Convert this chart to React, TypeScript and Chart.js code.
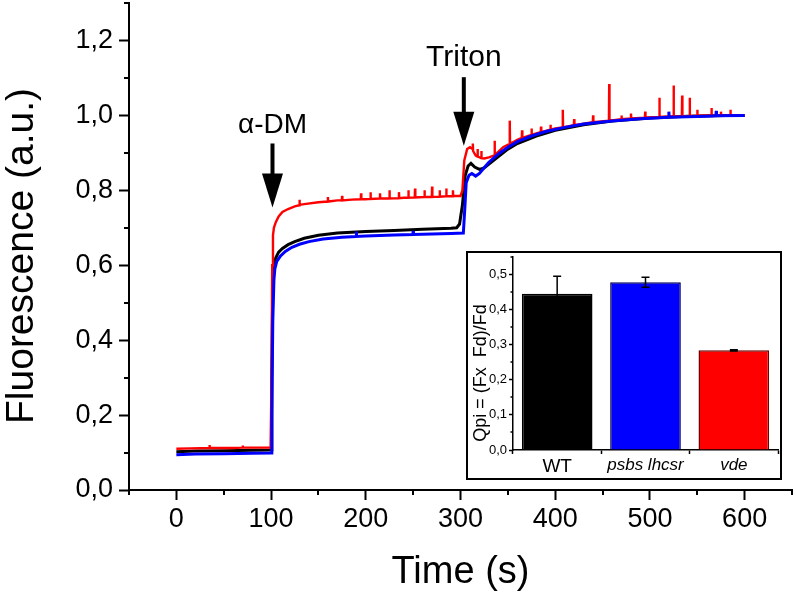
import React, { useEffect, useRef } from 'react';
import { Chart, registerables } from 'chart.js';

Chart.register(...registerables);

const FONT = '"Liberation Sans", Arial, Helvetica, sans-serif';

// ---------- Main chart data ----------
const xMajorTicks = [0, 100, 200, 300, 400, 500, 600];
const xTickLabels = ['0', '100', '200', '300', '400', '500', '600'];
const yMajorTicks = [0, 0.2, 0.4, 0.6, 0.8, 1.0, 1.2];
const yTickLabels = ['0,0', '0,2', '0,4', '0,6', '0,8', '1,0', '1,2'];

// [time (s), fluorescence (a.u.)]
const wtTrace: [number, number][] = [
  [0, 0.102], [20, 0.104], [50, 0.105], [80, 0.106], [100, 0.107], [100.8, 0.3], [101.8, 0.56],
  [103, 0.6], [105, 0.62], [108, 0.635], [112, 0.645], [118, 0.655], [125, 0.663], [135, 0.672],
  [150, 0.68], [170, 0.686], [200, 0.69], [230, 0.693], [260, 0.696], [290, 0.699], [296, 0.7],
  [299, 0.71], [302, 0.76], [305, 0.84], [308, 0.865], [311, 0.872], [315, 0.862], [320, 0.856],
  [325, 0.86], [330, 0.87], [340, 0.89], [350, 0.91], [360, 0.925], [380, 0.945], [400, 0.96],
  [430, 0.975], [460, 0.985], [500, 0.993], [540, 0.998], [580, 1.0], [600, 1.0],
];

const psbsTrace: [number, number][] = [
  [0, 0.094], [20, 0.096], [50, 0.097], [80, 0.098], [100, 0.099], [100.8, 0.2], [101.8, 0.45],
  [103, 0.56], [104, 0.59], [106, 0.61], [110, 0.625], [115, 0.637], [122, 0.648], [130, 0.656],
  [140, 0.663], [155, 0.67], [175, 0.675], [189.7, 0.677], [190, 0.69], [190.3, 0.677], [200, 0.678],
  [230, 0.681], [249.7, 0.682], [250, 0.692], [250.3, 0.682], [260, 0.683], [290, 0.685], [303, 0.686],
  [304.5, 0.75], [306, 0.82], [309, 0.84], [312, 0.845], [316, 0.838], [320, 0.845], [325, 0.86],
  [330, 0.875], [340, 0.897], [350, 0.915], [360, 0.93], [375, 0.945], [390, 0.957], [410, 0.968],
  [430, 0.977], [460, 0.985], [490, 0.991], [519.7, 0.995], [520, 1.01], [520.3, 0.995], [560, 0.998],
  [569.7, 0.999], [570, 1.012], [570.3, 0.999], [600, 1.0],
];

const vdeTrace: [number, number][] = [
  [0, 0.11], [15, 0.111], [34.7, 0.112], [35, 0.12], [35.3, 0.112], [60, 0.112], [69.7, 0.113],
  [70, 0.119], [70.3, 0.113], [90, 0.113], [99.5, 0.113], [100.5, 0.3], [101.2, 0.6], [102, 0.68],
  [103, 0.7], [105, 0.715], [108, 0.73], [112, 0.742], [118, 0.75], [125, 0.757], [129.7, 0.76],
  [130, 0.775], [130.3, 0.761], [135, 0.763], [150, 0.768], [159.7, 0.77], [160, 0.782], [160.3, 0.77],
  [170, 0.773], [174.7, 0.773], [175, 0.785], [175.3, 0.773], [185, 0.775], [194.7, 0.776], [195, 0.792],
  [195.3, 0.776], [200, 0.776], [204.7, 0.777], [205, 0.795], [205.3, 0.777], [214.7, 0.778], [215, 0.792],
  [215.3, 0.778], [224.7, 0.778], [225, 0.8], [225.3, 0.778], [234.7, 0.779], [235, 0.795], [235.3, 0.779],
  [240, 0.78], [244.7, 0.78], [245, 0.8], [245.3, 0.78], [251.7, 0.781], [252, 0.805], [252.3, 0.781],
  [261.7, 0.782], [262, 0.8], [262.3, 0.782], [269.7, 0.782], [270, 0.81], [270.3, 0.782], [277.7, 0.783],
  [278, 0.8], [278.3, 0.783], [284.7, 0.784], [285, 0.805], [285.3, 0.784], [291.7, 0.784], [292, 0.8],
  [292.3, 0.785], [300, 0.785], [302, 0.8], [304, 0.88], [307, 0.91], [310, 0.915], [312.7, 0.91],
  [313, 0.925], [313.3, 0.905], [316, 0.893], [317.7, 0.89], [318, 0.91], [318.3, 0.89], [321.7, 0.886],
  [322, 0.905], [322.3, 0.886], [325, 0.885], [330, 0.888], [335.7, 0.893], [336, 0.932], [336.3, 0.894],
  [345, 0.915], [351.7, 0.924], [352, 0.986], [352.3, 0.924], [360, 0.935], [364.7, 0.94], [365, 0.96],
  [365.3, 0.94], [374.7, 0.948], [375, 0.965], [375.3, 0.948], [380, 0.952], [384.7, 0.955], [385, 0.97],
  [385.3, 0.955], [394.7, 0.962], [395, 0.975], [395.3, 0.962], [400, 0.965], [407.7, 0.968], [408, 1.015],
  [408.3, 0.968], [419.7, 0.974], [420, 0.99], [420.3, 0.974], [430, 0.978], [439.7, 0.982], [440, 1.0],
  [440.3, 0.982], [456.7, 0.986], [457, 1.084], [457.3, 0.986], [469.7, 0.99], [470, 1.0], [470.3, 0.99],
  [479.7, 0.992], [480, 1.005], [480.3, 0.992], [494.7, 0.994], [495, 1.01], [495.3, 0.994], [509.7, 0.996],
  [510, 1.047], [510.3, 0.996], [520, 0.997], [524.7, 0.997], [525, 1.08], [525.3, 0.997], [533.7, 0.998],
  [534, 1.053], [534.3, 0.998], [541.7, 0.998], [542, 1.047], [542.3, 0.998], [549.7, 0.999], [550, 1.015],
  [550.3, 0.999], [560, 1.0], [564.7, 1.0], [565, 1.02], [565.3, 1.0], [574.7, 1.0], [575, 1.01],
  [575.3, 1.0], [584.7, 1.0], [585, 1.015], [585.3, 1.0], [600, 1.0],
];

// Annotation arrows (data units)
const arrowLabels = ['\u03B1-DM', 'Triton'];
const arrowTimes = [101.5, 303.5];
const arrowTops = [0.925, 1.102];
const arrowTips = [0.754, 0.919];
const arrowLabelBaselines = [0.952, 1.133];

// ---------- Inset data ----------
const insetCategories = ['WT', 'psbs lhcsr', 'vde'];
const insetValues = [0.445, 0.478, 0.284];
const insetErrors = [0.05, 0.014, 0.002];
const insetYMajorTicks = [0, 0.1, 0.2, 0.3, 0.4, 0.5];
const insetYTickLabels = ['0,0', '0,1', '0,2', '0,3', '0,4', '0,5'];

const insetTitle = 'Qpi = (Fx  Fd)/Fd';

// ---------- helpers ----------
const near = (a: number, b: number) => Math.abs(a - b) < 1e-6;
const isMajor = (v: number, majors: number[]) => majors.some((m) => near(m, v));
const labelFor = (v: number, majors: number[], labels: string[]) => {
  const i = majors.findIndex((m) => near(m, v));
  return i >= 0 ? labels[i] : '';
};
const toPoints = (trace: [number, number][]) => trace.map(([x, y]) => ({ x, y }));

const mainDecor = {
  id: 'mainDecor',
  afterDraw(chart: any) {
    const { ctx, chartArea } = chart;
    const xs = chart.scales.x;
    const ys = chart.scales.y;
    ctx.save();
    ctx.strokeStyle = '#000';
    ctx.lineWidth = 2;
    // minor ticks
    xs.ticks.forEach((t: any) => {
      if (isMajor(t.value, xMajorTicks)) return;
      const px = Math.round(xs.getPixelForValue(t.value));
      ctx.beginPath();
      ctx.moveTo(px, chartArea.bottom);
      ctx.lineTo(px, chartArea.bottom + 5);
      ctx.stroke();
    });
    ys.ticks.forEach((t: any) => {
      if (isMajor(t.value, yMajorTicks)) return;
      const py = Math.round(ys.getPixelForValue(t.value));
      ctx.beginPath();
      ctx.moveTo(chartArea.left, py);
      ctx.lineTo(chartArea.left - 5, py);
      ctx.stroke();
    });
    // y title
    ctx.fillStyle = '#000';
    ctx.font = `39px ${FONT}`;
    ctx.textAlign = 'center';
    ctx.textBaseline = 'middle';
    ctx.save();
    ctx.translate(22, 256);
    ctx.rotate(-Math.PI / 2);
    ctx.fillText('Fluorescence (a.u.)', 0, 0);
    ctx.restore();
    // arrows
    const headLen = 34;
    const headHalf = 10.5;
    const labelSizes = [28, 30];
    arrowLabels.forEach((lab, i) => {
      const x = xs.getPixelForValue(arrowTimes[i]);
      const yTop = ys.getPixelForValue(arrowTops[i]);
      const yTip = ys.getPixelForValue(arrowTips[i]);
      ctx.lineWidth = 4;
      ctx.beginPath();
      ctx.moveTo(x, yTop);
      ctx.lineTo(x, yTip - headLen + 2);
      ctx.stroke();
      ctx.beginPath();
      ctx.moveTo(x - headHalf, yTip - headLen);
      ctx.lineTo(x + headHalf, yTip - headLen);
      ctx.lineTo(x, yTip);
      ctx.closePath();
      ctx.fill();
      ctx.font = `${labelSizes[i]}px ${FONT}`;
      ctx.textBaseline = 'alphabetic';
      ctx.fillText(lab, x, ys.getPixelForValue(arrowLabelBaselines[i]));
    });
    ctx.restore();
  },
};

const insetDecor = {
  id: 'insetDecor',
  afterDatasetsDraw(chart: any) {
    const { ctx } = chart;
    const ys = chart.scales.y;
    const meta = chart.getDatasetMeta(0);
    ctx.save();
    ctx.strokeStyle = '#000';
    ctx.lineWidth = 1.5;
    meta.data.forEach((bar: any, i: number) => {
      const x = bar.x;
      const yT = ys.getPixelForValue(insetValues[i] + insetErrors[i]);
      const yB = ys.getPixelForValue(insetValues[i] - insetErrors[i]);
      ctx.beginPath();
      ctx.moveTo(x, yT);
      ctx.lineTo(x, yB);
      ctx.moveTo(x - 4, yT);
      ctx.lineTo(x + 4, yT);
      ctx.moveTo(x - 4, yB);
      ctx.lineTo(x + 4, yB);
      ctx.stroke();
    });
    ctx.restore();
  },
  afterDraw(chart: any) {
    const { ctx, chartArea } = chart;
    const ys = chart.scales.y;
    ctx.save();
    ctx.strokeStyle = '#000';
    ctx.lineWidth = 1.5;
    ys.ticks.forEach((t: any) => {
      if (isMajor(t.value, insetYMajorTicks)) return;
      const py = Math.round(ys.getPixelForValue(t.value));
      ctx.beginPath();
      ctx.moveTo(chartArea.left, py);
      ctx.lineTo(chartArea.left - 2.5, py);
      ctx.stroke();
    });
    ctx.fillStyle = '#000';
    ctx.font = `18px ${FONT}`;
    ctx.textAlign = 'center';
    ctx.textBaseline = 'middle';
    ctx.translate(13, 120);
    ctx.rotate(-Math.PI / 2);
    ctx.fillText(insetTitle, 0, 0);
    ctx.restore();
  },
};

export default function App() {
  const mainRef = useRef<HTMLCanvasElement>(null);
  const insetRef = useRef<HTMLCanvasElement>(null);

  useEffect(() => {
    Chart.defaults.font.family = FONT;
    const main = new Chart(mainRef.current as HTMLCanvasElement, {
      type: 'line',
      data: {
        datasets: [
          { label: 'psbs lhcsr', data: toPoints(psbsTrace), borderColor: '#0000ff', borderWidth: 3, pointRadius: 0, tension: 0 },
          { label: 'vde', data: toPoints(vdeTrace), borderColor: '#ff0000', borderWidth: 2.4, pointRadius: 0, tension: 0 },
          { label: 'WT', data: toPoints(wtTrace), borderColor: '#000000', borderWidth: 3, pointRadius: 0, tension: 0 },
        ],
      },
      options: {
        responsive: false,
        animation: false,
        events: [],
        layout: { padding: { top: 3, right: 5, left: 0, bottom: 0 } },
        plugins: { legend: { display: false }, tooltip: { enabled: false } },
        scales: {
          x: {
            type: 'linear',
            min: -50,
            max: 650,
            afterFit: (s: any) => { s.height = 107; s.paddingLeft = 0; s.paddingRight = 0; },
            ticks: {
              stepSize: 50, autoSkip: false, maxRotation: 0, padding: 3, color: '#000',
              font: { family: FONT, size: 27 },
              callback: (v: any) => labelFor(Number(v), xMajorTicks, xTickLabels),
            },
            grid: {
              drawOnChartArea: false, tickLength: 10, tickWidth: 2,
              tickColor: (c: any) => (c.tick && isMajor(c.tick.value, xMajorTicks) ? '#000' : 'rgba(0,0,0,0)'),
            },
            border: { color: '#000', width: 2 },
            title: { display: true, text: 'Time (s)', color: '#000', font: { family: FONT, size: 38 }, padding: { top: 0, bottom: 2 } },
          },
          y: {
            type: 'linear',
            min: 0,
            max: 1.3,
            afterFit: (s: any) => { s.width = 129; s.paddingTop = 0; s.paddingBottom = 0; },
            ticks: {
              stepSize: 0.1, autoSkip: false, padding: 6, color: '#000',
              font: { family: FONT, size: 27 },
              callback: (v: any) => labelFor(Number(v), yMajorTicks, yTickLabels),
            },
            grid: {
              drawOnChartArea: false, tickLength: 10, tickWidth: 2,
              tickColor: (c: any) => (c.tick && isMajor(c.tick.value, yMajorTicks) ? '#000' : 'rgba(0,0,0,0)'),
            },
            border: { color: '#000', width: 2 },
          },
        },
      } as any,
      plugins: [mainDecor],
    });

    const inset = new Chart(insetRef.current as HTMLCanvasElement, {
      type: 'bar',
      data: {
        labels: insetCategories,
        datasets: [
          {
            data: insetValues,
            backgroundColor: ['#000000', '#0000ff', '#ff0000'],
            borderColor: ['#000000', '#00005a', '#6a0000'],
            borderWidth: 1.5,
            barPercentage: 0.8,
            categoryPercentage: 1,
          },
        ],
      },
      options: {
        responsive: false,
        animation: false,
        events: [],
        layout: { padding: { top: 4, right: 2, left: 0, bottom: 0 } },
        plugins: { legend: { display: false }, tooltip: { enabled: false } },
        scales: {
          x: {
            afterFit: (s: any) => { s.height = 28; s.paddingLeft = 0; s.paddingRight = 0; },
            ticks: {
              color: '#000', padding: 1, autoSkip: false, maxRotation: 0,
              font: (c: any) => ({ family: FONT, size: c.index === 0 ? 19 : 17, style: c.index === 0 ? 'normal' : 'italic' }),
            },
            grid: { offset: true, drawOnChartArea: false, tickLength: 4, tickWidth: 1.5, tickColor: '#000' },
            border: { color: '#000', width: 1.5 },
          },
          y: {
            min: 0,
            max: 0.55,
            afterFit: (s: any) => { s.width = 45; s.paddingTop = 0; s.paddingBottom = 0; },
            ticks: {
              stepSize: 0.05, autoSkip: false, padding: 2, color: '#000',
              font: { family: FONT, size: 13 },
              callback: (v: any) => labelFor(Number(v), insetYMajorTicks, insetYTickLabels),
            },
            grid: {
              drawOnChartArea: false, tickLength: 4, tickWidth: 1.5,
              tickColor: (c: any) => (c.tick && isMajor(c.tick.value, insetYMajorTicks) ? '#000' : 'rgba(0,0,0,0)'),
            },
            border: { color: '#000', width: 1.5 },
          },
        },
      } as any,
      plugins: [insetDecor],
    });

    return () => {
      main.destroy();
      inset.destroy();
    };
  }, []);

  return (
    <div style={{ position: 'absolute', left: 0, top: 0, width: 797, height: 597, background: '#fff' }}>
      <canvas
        ref={mainRef}
        width={797}
        height={597}
        style={{ position: 'absolute', left: 0, top: 0, width: 797, height: 597 }}
      />
      <div
        style={{
          position: 'absolute', left: 466, top: 251, width: 316, height: 229,
          boxSizing: 'border-box', border: '2px solid #000', background: '#fff',
        }}
      >
        <canvas ref={insetRef} width={312} height={225} style={{ display: 'block', width: 312, height: 225 }} />
      </div>
    </div>
  );
}
